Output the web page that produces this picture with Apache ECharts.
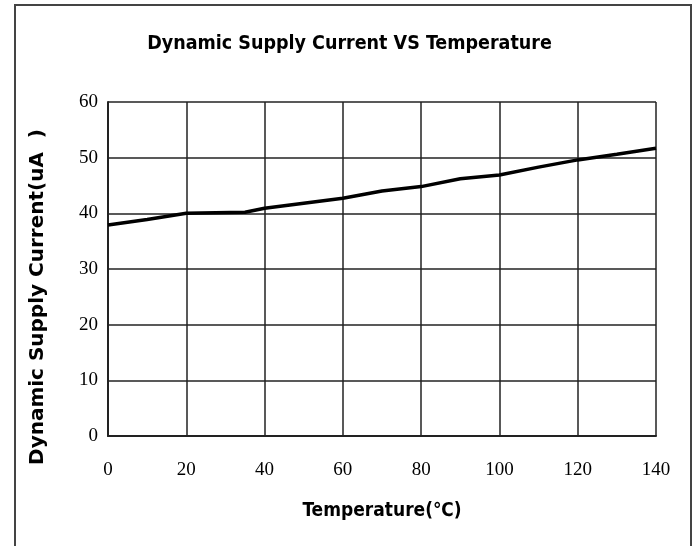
<!DOCTYPE html>
<html>
<head>
<meta charset="utf-8">
<script src="https://cdn.jsdelivr.net/npm/echarts@6/dist/echarts.min.js"></script>
<style>
html,body{margin:0;padding:0;background:#fff;}
#c{width:699px;height:546px;}
</style>
</head>
<body>
<div id="c"></div>
<script>
var titleText = 'Dynamic Supply Current VS Temperature';
var xName = 'Temperature(℃)';
var yName = 'Dynamic Supply Current(uA  )';
var temps =   [0,    10,   20,   35,   40,   50,   60,   70,   80,   90,   100,  110,  120,  130,  140];
var current = [37.9, 38.9, 40.0, 40.2, 40.9, 41.8, 42.7, 44.0, 44.8, 46.2, 46.9, 48.3, 49.6, 50.6, 51.7];
var xTicks = [0, 20, 40, 60, 80, 100, 120, 140];
var yTicks = [0, 10, 20, 30, 40, 50, 60];

var data = temps.map(function (t, i) { return [t, current[i]]; });
var chart = echarts.init(document.getElementById('c'), null, {renderer: 'canvas'});
var tickFont = {fontFamily: 'Liberation Serif', fontSize: 19, color: '#000'};
chart.setOption({
  animation: false,
  backgroundColor: '#fff',
  title: {
    text: titleText, left: 'center', top: 29,
    textStyle: {fontFamily: 'DejaVu Sans Condensed', fontWeight: 'bold', fontSize: 19.5, color: '#000'}
  },
  graphic: [{
    type: 'polyline', silent: true,
    shape: {points: [[15, 560], [15, 5], [691, 5], [691, 560]]},
    style: {stroke: '#444', lineWidth: 2, fill: null}
  }],
  grid: {left: 108, right: 43, top: 102, bottom: 110, containLabel: false},
  xAxis: {
    type: 'value', min: xTicks[0], max: xTicks[xTicks.length - 1], interval: 20,
    name: xName, nameLocation: 'middle', nameGap: 66,
    nameTextStyle: {fontFamily: 'DejaVu Sans Condensed', fontWeight: 'bold', fontSize: 19, color: '#000'},
    axisLine: {show: true, lineStyle: {color: '#222', width: 2}},
    axisTick: {show: false},
    axisLabel: Object.assign({margin: 25}, tickFont),
    splitLine: {show: true, lineStyle: {color: '#222', width: 1.5}}
  },
  yAxis: {
    type: 'value', min: yTicks[0], max: yTicks[yTicks.length - 1], interval: 10,
    name: yName, nameLocation: 'middle', nameGap: 60, nameRotate: 90,
    nameTextStyle: {fontFamily: 'DejaVu Sans', fontWeight: 'bold', fontSize: 20, color: '#000', padding: [0, 56, 0, 0]},
    axisLine: {show: true, lineStyle: {color: '#222', width: 2}},
    axisTick: {show: false},
    axisLabel: Object.assign({margin: 10}, tickFont),
    splitLine: {show: true, lineStyle: {color: '#222', width: 1.5}}
  },
  series: [{
    type: 'line', data: data, showSymbol: false, smooth: false,
    lineStyle: {color: '#000', width: 3.5}
  }]
});
</script>
</body>
</html>
